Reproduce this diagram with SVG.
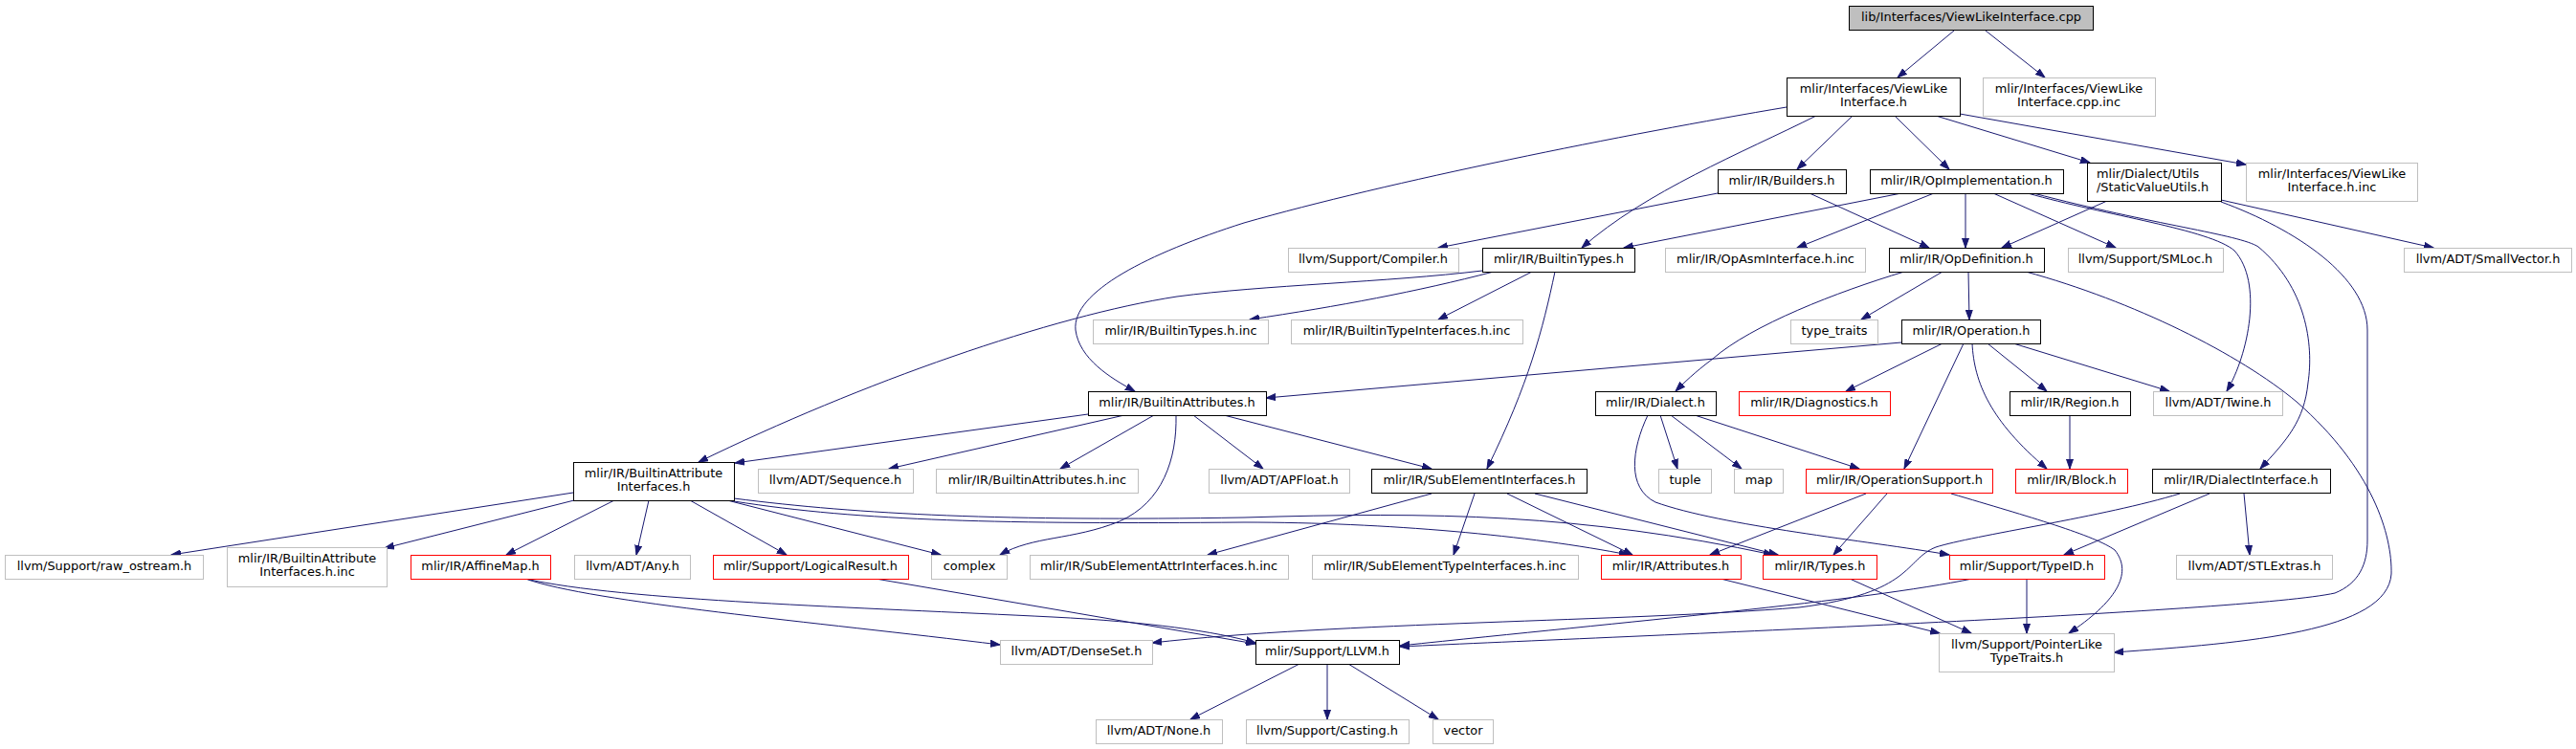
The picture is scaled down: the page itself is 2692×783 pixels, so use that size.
<svg xmlns="http://www.w3.org/2000/svg" width="2692" height="783" viewBox="0 0 2692 783">
<style>
rect{stroke-width:1;fill:#fff}
.n{stroke:#000}
.g{stroke:#bfbfbf}
.r{stroke:#ff0000}
.root{stroke:#000;fill:#bfbfbf}
text{font-family:"DejaVu Sans","Liberation Sans",sans-serif;font-size:12.9px;fill:#000;text-anchor:middle}
.e path{fill:none;stroke:#191970;stroke-width:1;marker-end:url(#a)}
</style>
<defs>
<marker id="a" markerWidth="11" markerHeight="8" refX="10" refY="4" orient="auto" markerUnits="userSpaceOnUse">
<path d="M0,0.5 L10,4 L0,7.5 z" fill="#191970" stroke="#191970" stroke-width="1"/>
</marker>
</defs>
<rect x="0" y="0" width="2692" height="783" fill="#fff" stroke="none"/>
<g id="edges" class="e">
<path d="M2042,32 L1983,81"/>
<path d="M2075,32 L2137,81"/>
<path d="M1867,112 C1700,140 1450,190 1300,233 C1200,265 1120,305 1124,345 C1128,375 1160,395 1186,409"/>
<path d="M1898,121 C1820,160 1720,200 1653,259"/>
<path d="M1936,121 L1878,177"/>
<path d="M1980,121 L2037,177"/>
<path d="M2023,121 L2184,170"/>
<path d="M2048,119 L2347,172"/>
<path d="M1795,202 L1503,259"/>
<path d="M1891,202 L2016,259"/>
<path d="M1987,202 L1697,259"/>
<path d="M2021,202 L1878,259"/>
<path d="M2054,202 L2054,259"/>
<path d="M2083,202 L2211,259"/>
<path d="M2119,202 C2200,225 2310,240 2335,262 C2365,295 2350,370 2327,409"/>
<path d="M2125,202 C2250,235 2340,245 2360,258 C2410,300 2418,360 2412,400 C2408,440 2390,460 2362,490"/>
<path d="M2202,210 L2092,259"/>
<path d="M2321,209 L2543,259"/>
<path d="M2321,211 C2400,240 2474,290 2474,345 L2474,565 C2474,590 2465,610 2440,620 C2350,640 1700,665 1463,676"/>
<path d="M1549,283 C1450,295 1320,298 1230,310 C1100,330 900,400 730,483"/>
<path d="M1561,284 C1480,305 1400,320 1306,334"/>
<path d="M1601,284 L1503,334"/>
<path d="M1625,284 C1612,345 1598,400 1554,490"/>
<path d="M2030,284 L1945,334"/>
<path d="M1990,284 C1920,305 1830,340 1790,375 C1770,390 1760,400 1751,409"/>
<path d="M2057,284 L2058,334"/>
<path d="M2117,284 C2230,315 2340,370 2400,420 C2480,490 2500,560 2499,600 C2495,660 2350,672 2209,682"/>
<path d="M1987,358 L1323,416"/>
<path d="M2030,359 L1929,409"/>
<path d="M2052,359 L1990,490"/>
<path d="M2061,359 C2063,400 2080,440 2139,490"/>
<path d="M2077,359 L2139,409"/>
<path d="M2104,359 L2267,409"/>
<path d="M1137,433 L768,484"/>
<path d="M1175,434 L929,490"/>
<path d="M1206,434 L1108,490"/>
<path d="M1229,434 C1230,480 1215,525 1170,545 C1120,565 1080,560 1045,580"/>
<path d="M1247,434 L1320,490"/>
<path d="M1279,434 L1496,490"/>
<path d="M599,515 L179,580"/>
<path d="M600,523 L402,573"/>
<path d="M642,523 L529,580"/>
<path d="M678,523 L665,580"/>
<path d="M721,523 L822,580"/>
<path d="M760,523 L983,580"/>
<path d="M767,524 C900,545 1050,548 1300,546 C1450,546 1600,560 1702,580"/>
<path d="M767,521 C900,538 1050,545 1300,541 C1500,535 1650,537 1853,580"/>
<path d="M549,605 C620,630 850,650 1045,674"/>
<path d="M549,605 C650,628 900,635 1100,645 C1200,650 1270,660 1312,672"/>
<path d="M915,605 L1312,673"/>
<path d="M1496,516 L1262,580"/>
<path d="M1541,516 L1519,580"/>
<path d="M1575,516 L1706,580"/>
<path d="M1604,516 L1858,580"/>
<path d="M1735,434 L1753,490"/>
<path d="M1746,434 L1820,490"/>
<path d="M1771,434 L1943,490"/>
<path d="M1722,434 C1705,470 1700,510 1730,525 C1800,550 1950,565 2037,580"/>
<path d="M2163,434 L2163,490"/>
<path d="M1950,516 L1787,580"/>
<path d="M1972,516 L1916,580"/>
<path d="M2039,516 C2120,540 2190,560 2210,575 C2230,600 2210,630 2162,662"/>
<path d="M2309,516 L2157,580"/>
<path d="M2345,516 L2351,580"/>
<path d="M2278,516 C2200,540 2060,560 2023,572 C1990,585 2000,620 1880,635 C1700,650 1400,650 1204,672"/>
<path d="M2061,605 C1950,628 1700,650 1463,675"/>
<path d="M2118,605 L2118,662"/>
<path d="M1798,605 L2027,662"/>
<path d="M1933,605 L2060,662"/>
<path d="M1358,694 L1244,752"/>
<path d="M1387,694 L1387,752"/>
<path d="M1409,694 L1503,752"/>
</g>
<g id="n0"><rect class="root" x="1932.5" y="6.5" width="255" height="25"/><text x="2060" y="22">lib/Interfaces/ViewLikeInterface.cpp</text></g>
<g id="n1"><rect class="n" x="1867.5" y="81.5" width="181" height="40"/><text x="1958" y="97">mlir/Interfaces/ViewLike</text><text x="1958" y="111">Interface.h</text></g>
<g id="n2"><rect class="g" x="2072.5" y="81.5" width="180" height="40"/><text x="2162" y="97">mlir/Interfaces/ViewLike</text><text x="2162" y="111">Interface.cpp.inc</text></g>
<g id="n3"><rect class="n" x="1795.5" y="177.5" width="134" height="25"/><text x="1862" y="193">mlir/IR/Builders.h</text></g>
<g id="n4"><rect class="n" x="1954.5" y="177.5" width="202" height="25"/><text x="2055" y="193">mlir/IR/OpImplementation.h</text></g>
<g id="n5"><rect class="n" x="2181.5" y="170.5" width="140" height="40"/><text x="2191" y="186" style="text-anchor:start">mlir/Dialect/Utils</text><text x="2191" y="200" style="text-anchor:start">/StaticValueUtils.h</text></g>
<g id="n6"><rect class="g" x="2347.5" y="170.5" width="179" height="40"/><text x="2437" y="186">mlir/Interfaces/ViewLike</text><text x="2437" y="200">Interface.h.inc</text></g>
<g id="n7"><rect class="g" x="1346.5" y="259.5" width="178" height="25"/><text x="1435" y="275">llvm/Support/Compiler.h</text></g>
<g id="n8"><rect class="n" x="1549.5" y="259.5" width="159" height="25"/><text x="1629" y="275">mlir/IR/BuiltinTypes.h</text></g>
<g id="n9"><rect class="g" x="1740.5" y="259.5" width="209" height="25"/><text x="1845" y="275">mlir/IR/OpAsmInterface.h.inc</text></g>
<g id="n10"><rect class="n" x="1974.5" y="259.5" width="162" height="25"/><text x="2055" y="275">mlir/IR/OpDefinition.h</text></g>
<g id="n11"><rect class="g" x="2161.5" y="259.5" width="162" height="25"/><text x="2242" y="275">llvm/Support/SMLoc.h</text></g>
<g id="n12"><rect class="g" x="2512.5" y="259.5" width="175" height="25"/><text x="2600" y="275">llvm/ADT/SmallVector.h</text></g>
<g id="n13"><rect class="g" x="1142.5" y="334.5" width="183" height="25"/><text x="1234" y="350">mlir/IR/BuiltinTypes.h.inc</text></g>
<g id="n14"><rect class="g" x="1349.5" y="334.5" width="242" height="25"/><text x="1470" y="350">mlir/IR/BuiltinTypeInterfaces.h.inc</text></g>
<g id="n15"><rect class="g" x="1871.5" y="334.5" width="91" height="25"/><text x="1917" y="350">type_traits</text></g>
<g id="n16"><rect class="n" x="1987.5" y="334.5" width="145" height="25"/><text x="2060" y="350">mlir/IR/Operation.h</text></g>
<g id="n17"><rect class="n" x="1137.5" y="409.5" width="186" height="25"/><text x="1230" y="425">mlir/IR/BuiltinAttributes.h</text></g>
<g id="n18"><rect class="n" x="1667.5" y="409.5" width="126" height="25"/><text x="1730" y="425">mlir/IR/Dialect.h</text></g>
<g id="n19"><rect class="r" x="1817.5" y="409.5" width="158" height="25"/><text x="1896" y="425">mlir/IR/Diagnostics.h</text></g>
<g id="n20"><rect class="n" x="2100.5" y="409.5" width="126" height="25"/><text x="2163" y="425">mlir/IR/Region.h</text></g>
<g id="n21"><rect class="g" x="2250.5" y="409.5" width="135" height="25"/><text x="2318" y="425">llvm/ADT/Twine.h</text></g>
<g id="n22"><rect class="n" x="599.5" y="483.5" width="168" height="40"/><text x="683" y="499">mlir/IR/BuiltinAttribute</text><text x="683" y="513">Interfaces.h</text></g>
<g id="n23"><rect class="g" x="792.5" y="490.5" width="162" height="25"/><text x="873" y="506">llvm/ADT/Sequence.h</text></g>
<g id="n24"><rect class="g" x="978.5" y="490.5" width="211" height="25"/><text x="1084" y="506">mlir/IR/BuiltinAttributes.h.inc</text></g>
<g id="n25"><rect class="g" x="1263.5" y="490.5" width="147" height="25"/><text x="1337" y="506">llvm/ADT/APFloat.h</text></g>
<g id="n26"><rect class="n" x="1433.5" y="490.5" width="225" height="25"/><text x="1546" y="506">mlir/IR/SubElementInterfaces.h</text></g>
<g id="n27"><rect class="g" x="1733.5" y="490.5" width="55" height="25"/><text x="1761" y="506">tuple</text></g>
<g id="n28"><rect class="g" x="1812.5" y="490.5" width="51" height="25"/><text x="1838" y="506">map</text></g>
<g id="n29"><rect class="r" x="1887.5" y="490.5" width="195" height="25"/><text x="1985" y="506">mlir/IR/OperationSupport.h</text></g>
<g id="n30"><rect class="r" x="2106.5" y="490.5" width="117" height="25"/><text x="2165" y="506">mlir/IR/Block.h</text></g>
<g id="n31"><rect class="n" x="2249.5" y="490.5" width="186" height="25"/><text x="2342" y="506">mlir/IR/DialectInterface.h</text></g>
<g id="n32"><rect class="g" x="5.5" y="580.5" width="207" height="25"/><text x="109" y="596">llvm/Support/raw_ostream.h</text></g>
<g id="n33"><rect class="g" x="237.5" y="572.5" width="167" height="41"/><text x="321" y="588">mlir/IR/BuiltinAttribute</text><text x="321" y="602">Interfaces.h.inc</text></g>
<g id="n34"><rect class="r" x="429.5" y="580.5" width="146" height="25"/><text x="502" y="596">mlir/IR/AffineMap.h</text></g>
<g id="n35"><rect class="g" x="600.5" y="580.5" width="121" height="25"/><text x="661" y="596">llvm/ADT/Any.h</text></g>
<g id="n36"><rect class="r" x="745.5" y="580.5" width="204" height="25"/><text x="847" y="596">mlir/Support/LogicalResult.h</text></g>
<g id="n37"><rect class="g" x="973.5" y="580.5" width="79" height="25"/><text x="1013" y="596">complex</text></g>
<g id="n38"><rect class="g" x="1076.5" y="580.5" width="270" height="25"/><text x="1211" y="596">mlir/IR/SubElementAttrInterfaces.h.inc</text></g>
<g id="n39"><rect class="g" x="1371.5" y="580.5" width="278" height="25"/><text x="1510" y="596">mlir/IR/SubElementTypeInterfaces.h.inc</text></g>
<g id="n40"><rect class="r" x="1673.5" y="580.5" width="146" height="25"/><text x="1746" y="596">mlir/IR/Attributes.h</text></g>
<g id="n41"><rect class="r" x="1842.5" y="580.5" width="119" height="25"/><text x="1902" y="596">mlir/IR/Types.h</text></g>
<g id="n42"><rect class="r" x="2037.5" y="580.5" width="162" height="25"/><text x="2118" y="596">mlir/Support/TypeID.h</text></g>
<g id="n43"><rect class="g" x="2274.5" y="580.5" width="163" height="25"/><text x="2356" y="596">llvm/ADT/STLExtras.h</text></g>
<g id="n44"><rect class="g" x="1045.5" y="669.5" width="159" height="25"/><text x="1125" y="685">llvm/ADT/DenseSet.h</text></g>
<g id="n45"><rect class="n" x="1312.5" y="669.5" width="150" height="25"/><text x="1387" y="685">mlir/Support/LLVM.h</text></g>
<g id="n46"><rect class="g" x="2026.5" y="662.5" width="183" height="40"/><text x="2118" y="678">llvm/Support/PointerLike</text><text x="2118" y="692">TypeTraits.h</text></g>
<g id="n47"><rect class="g" x="1145.5" y="752.5" width="132" height="25"/><text x="1211" y="768">llvm/ADT/None.h</text></g>
<g id="n48"><rect class="g" x="1302.5" y="752.5" width="170" height="25"/><text x="1387" y="768">llvm/Support/Casting.h</text></g>
<g id="n49"><rect class="g" x="1497.5" y="752.5" width="63" height="25"/><text x="1529" y="768">vector</text></g>
</svg>
